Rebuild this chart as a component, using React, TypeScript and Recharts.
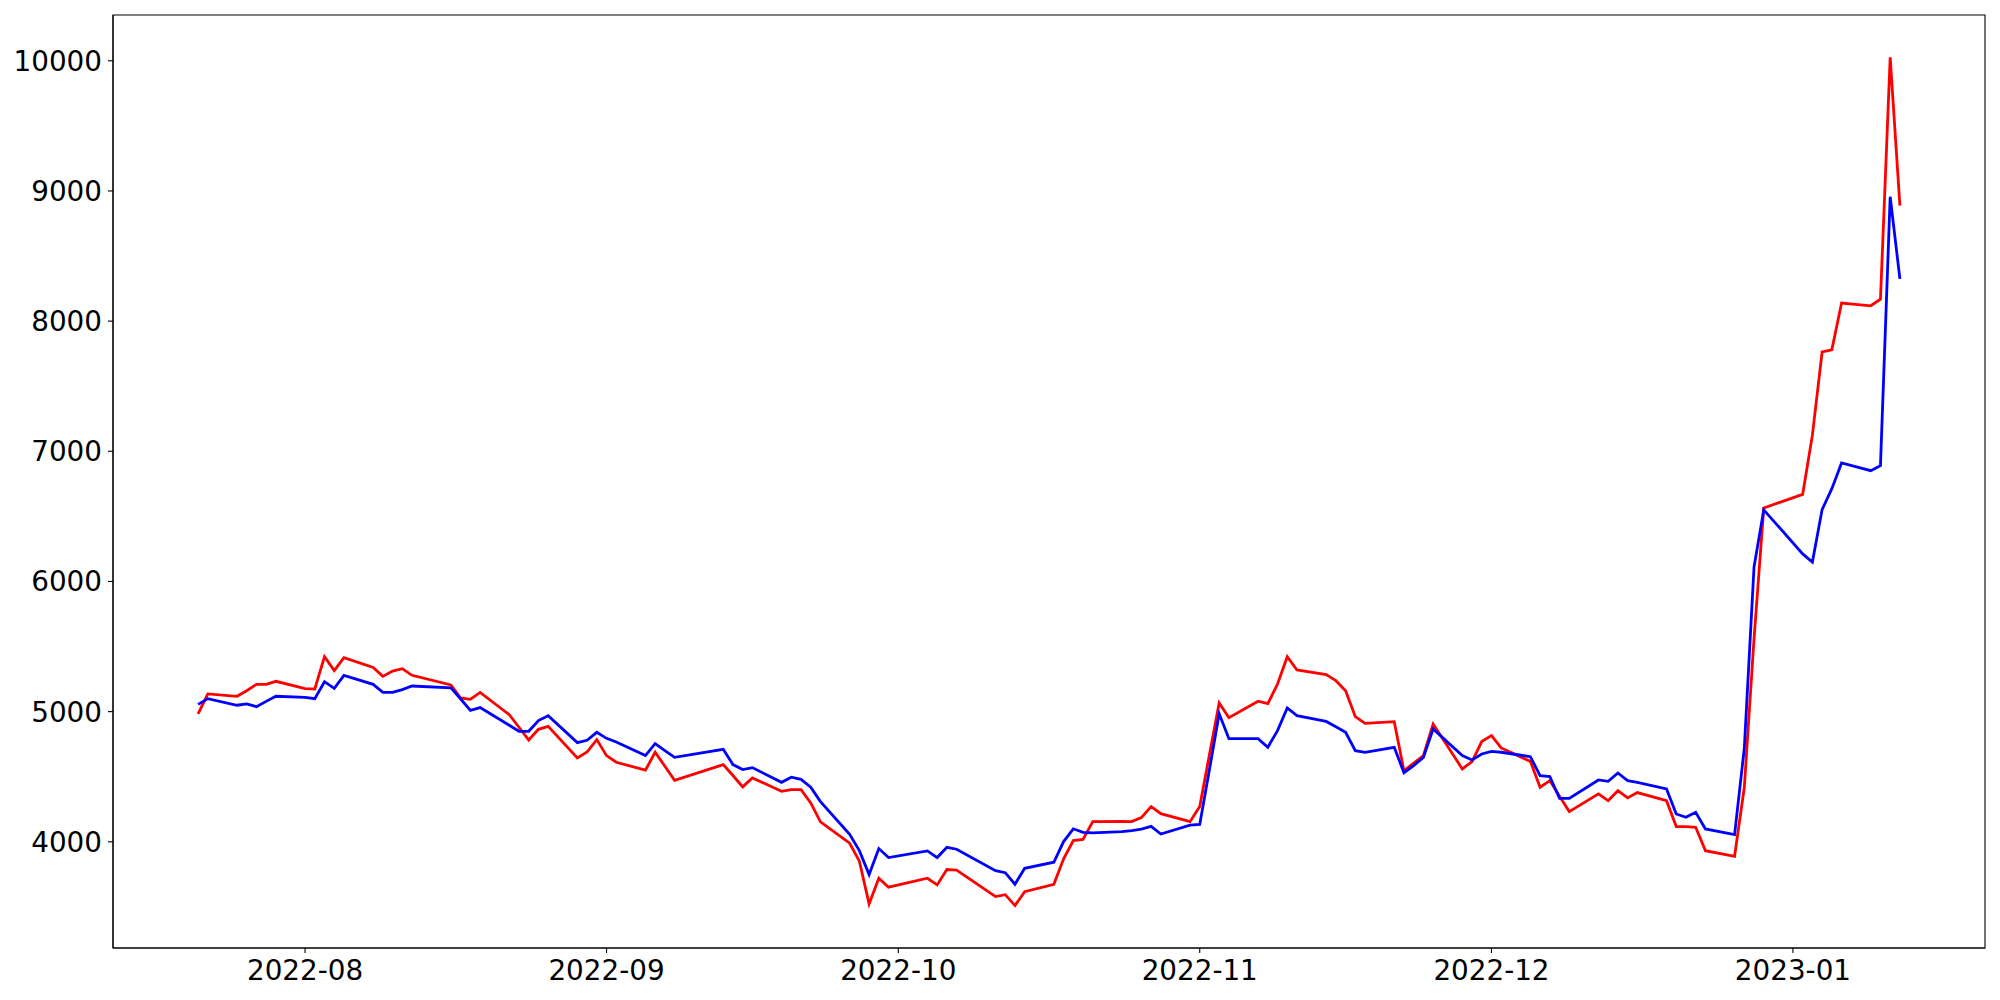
import { Line, LineChart, ReferenceArea, XAxis, YAxis } from "recharts"

// trading days (KRX calendar) and the two series
const dates = [
  "2022-07-21", "2022-07-22", "2022-07-25", "2022-07-26", "2022-07-27", "2022-07-28", "2022-07-29",
  "2022-08-01", "2022-08-02", "2022-08-03", "2022-08-04", "2022-08-05", "2022-08-08", "2022-08-09",
  "2022-08-10", "2022-08-11", "2022-08-12", "2022-08-16", "2022-08-17", "2022-08-18", "2022-08-19",
  "2022-08-22", "2022-08-23", "2022-08-24", "2022-08-25", "2022-08-26", "2022-08-29", "2022-08-30",
  "2022-08-31", "2022-09-01", "2022-09-02", "2022-09-05", "2022-09-06", "2022-09-07", "2022-09-08",
  "2022-09-13", "2022-09-14", "2022-09-15", "2022-09-16", "2022-09-19", "2022-09-20", "2022-09-21",
  "2022-09-22", "2022-09-23", "2022-09-26", "2022-09-27", "2022-09-28", "2022-09-29", "2022-09-30",
  "2022-10-04", "2022-10-05", "2022-10-06", "2022-10-07", "2022-10-11", "2022-10-12", "2022-10-13",
  "2022-10-14", "2022-10-17", "2022-10-18", "2022-10-19", "2022-10-20", "2022-10-21", "2022-10-24",
  "2022-10-25", "2022-10-26", "2022-10-27", "2022-10-28", "2022-10-31", "2022-11-01", "2022-11-02",
  "2022-11-03", "2022-11-04", "2022-11-07", "2022-11-08", "2022-11-09", "2022-11-10", "2022-11-11",
  "2022-11-14", "2022-11-15", "2022-11-16", "2022-11-17", "2022-11-18", "2022-11-21", "2022-11-22",
  "2022-11-23", "2022-11-24", "2022-11-25", "2022-11-28", "2022-11-29", "2022-11-30", "2022-12-01",
  "2022-12-02", "2022-12-05", "2022-12-06", "2022-12-07", "2022-12-08", "2022-12-09", "2022-12-12",
  "2022-12-13", "2022-12-14", "2022-12-15", "2022-12-16", "2022-12-19", "2022-12-20", "2022-12-21",
  "2022-12-22", "2022-12-23", "2022-12-26", "2022-12-27", "2022-12-28", "2022-12-29", "2023-01-02",
  "2023-01-03", "2023-01-04", "2023-01-05", "2023-01-06", "2023-01-09", "2023-01-10", "2023-01-11",
  "2023-01-12",
]

const redValues = [
  4982, 5136, 5118, 5161, 5210, 5210, 5233,
  5177, 5174, 5422, 5315, 5415, 5340, 5271,
  5312, 5330, 5279, 5205, 5105, 5095, 5148,
  4977, 4880, 4782, 4864, 4887, 4644, 4690,
  4785, 4662, 4611, 4550, 4688, 4580, 4472,
  4593, 4509, 4422, 4491, 4388, 4401, 4401,
  4299, 4153, 3989, 3851, 3523, 3720, 3651,
  3720, 3669, 3787, 3782, 3579, 3594, 3510,
  3617, 3674, 3870, 4010, 4019, 4155, 4157,
  4155, 4186, 4270, 4216, 4155, 4272, 4670,
  5067, 4953, 5080, 5061, 5212, 5422, 5320,
  5284, 5238, 5161, 4961, 4910, 4923, 4546,
  4605, 4662, 4905, 4560, 4616, 4770, 4816,
  4721, 4618, 4419, 4470, 4350, 4232, 4368,
  4316, 4393, 4337, 4378, 4316, 4117, 4117,
  4112, 3932, 3889, 4419, 5560, 6565, 6669,
  7124, 7763, 7780, 8139, 8118, 8168, 10026,
  8888,
]

const blueValues = [
  5056, 5100, 5049, 5059, 5038, 5079, 5118,
  5110, 5100, 5230, 5179, 5279, 5210, 5148,
  5148, 5169, 5197, 5182, 5097, 5010, 5031,
  4895, 4849, 4849, 4931, 4969, 4762, 4780,
  4841, 4795, 4767, 4662, 4754, 4701, 4649,
  4711, 4593, 4555, 4570, 4457, 4496, 4480,
  4419, 4309, 4058, 3932, 3748, 3948, 3879,
  3930, 3879, 3958, 3943, 3778, 3763, 3674,
  3796, 3843, 4002, 4100, 4073, 4068, 4078,
  4086, 4098, 4119, 4060, 4128, 4133, 4555,
  4984, 4792, 4792, 4726, 4854, 5028, 4969,
  4925, 4884, 4841, 4700, 4687, 4726, 4531,
  4585, 4649, 4867, 4662, 4629, 4675, 4695,
  4688, 4654, 4508, 4501, 4334, 4334, 4475,
  4465, 4529, 4470, 4457, 4406, 4214, 4188,
  4227, 4099, 4055, 4720, 6111, 6550, 6212,
  6149, 6552, 6713, 6910, 6851, 6890, 8956,
  8324,
]

const monthTicks = ["2022-08-01", "2022-09-01", "2022-10-01", "2022-11-01", "2022-12-01", "2023-01-01"]
const yTicks = [4000, 5000, 6000, 7000, 8000, 9000, 10000]

const rows = dates.map((d, i) => ({
  t: Date.parse(d),
  red: redValues[i],
  blue: blueValues[i],
}))

// matplotlib-like 5% margins
function padded(min: number, max: number): [number, number] {
  const m = (max - min) * 0.05
  return [min - m, max + m]
}

const times = rows.map((r) => r.t)
const allValues = [...redValues, ...blueValues]
const xDomain = padded(Math.min(...times), Math.max(...times))
const yDomain = padded(Math.min(...allValues), Math.max(...allValues))

const fmtMonth = (v: number) => {
  const d = new Date(v)
  return `${d.getUTCFullYear()}-${String(d.getUTCMonth() + 1).padStart(2, "0")}`
}

const tickStyle = { fontFamily: "DejaVu Sans", fontSize: 27.8, fill: "#000000" }
const lineStyle = { stroke: "#000000", strokeWidth: 1.1 }

export default function App() {
  return (
    <div style={{ position: "absolute", top: 0, left: 0, width: 2000, height: 1000, background: "#fff" }}>
      <LineChart width={2000} height={1000} data={rows} margin={{ top: 15, right: 15, bottom: 0, left: 0 }}>
        <XAxis
          dataKey="t"
          type="number"
          scale="linear"
          domain={xDomain}
          allowDataOverflow
          ticks={monthTicks.map((m) => Date.parse(m))}
          tickFormatter={fmtMonth}
          height={52}
          tick={tickStyle}
          tickSize={5}
          tickMargin={7}
          axisLine={lineStyle}
          tickLine={lineStyle}
        />
        <YAxis
          type="number"
          domain={yDomain}
          allowDataOverflow
          ticks={yTicks}
          width={113}
          tick={tickStyle}
          tickSize={5}
          tickMargin={6}
          axisLine={lineStyle}
          tickLine={lineStyle}
        />
        {/* axes frame */}
        <ReferenceArea
          x1={xDomain[0]}
          x2={xDomain[1]}
          y1={yDomain[0]}
          y2={yDomain[1]}
          fill="none"
          stroke="#000000"
          strokeWidth={1.1}
        />
        <Line
          type="linear"
          dataKey="red"
          stroke="#ff0000"
          strokeWidth={2.8}
          dot={false}
          isAnimationActive={false}
        />
        <Line
          type="linear"
          dataKey="blue"
          stroke="#0000ff"
          strokeWidth={2.8}
          dot={false}
          isAnimationActive={false}
        />
      </LineChart>
    </div>
  )
}
